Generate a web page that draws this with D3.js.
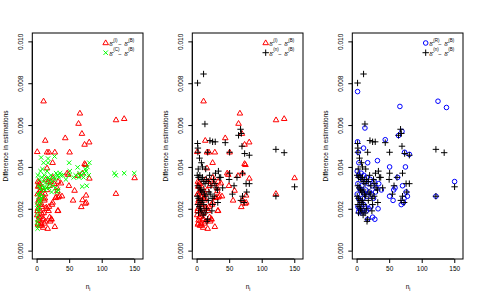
<!DOCTYPE html>
<html>
<head>
<meta charset="utf-8">
<script src="https://cdn.jsdelivr.net/npm/d3@7"></script>
<style>
body { margin: 0; background: white; }
text { font-family: 'Liberation Sans', Arial, sans-serif; fill: #000; }
</style>
</head>
<body>
<div id="chart_div"></div>
<script>
// [n_i, difference] pairs
var series_I = [[10.7,0.00714],[66.5,0.00656],[64.4,0.00607],[122,0.00624],[134.5,0.0063],[69.6,0.00559],[44,0.00538],[13.3,0.00526],[80.8,0.00518],[73.7,0.00507],[1,0.00472],[16,0.0047],[19,0.0047],[28,0.0047],[50.7,0.0047],[24.6,0.0042],[16,0.00394],[73.7,0.00415],[75,0.0041],[48.6,0.00363],[63.5,0.00358],[70.5,0.0037],[81,0.00345],[37.4,0.00322],[49.6,0.0031],[58.3,0.00287],[32,0.00285],[76,0.00264],[39,0.0026],[29,0.00252],[33,0.00255],[70.5,0.00242],[56,0.0024],[76.2,0.0023],[74.6,0.00225],[68.6,0.00209],[33,0.00191],[15.9,0.002],[24.6,0.0023],[22.7,0.00152],[22.7,0.00149],[28,0.00114],[17,0.00105],[121.8,0.00272],[150.5,0.00347],
	[3.6,0.00325],[2.6,0.00306],[7.7,0.00274],[4.6,0.0025],[12.8,0.0025],[2.6,0.0023],[8,0.0022],[14.9,0.00207],[1.5,0.0019],[8.1,0.00177],[18.5,0.0019],[23.6,0.0022],[4.6,0.0016],[11,0.0015],[2.6,0.0013],[7.2,0.0012],[13.8,0.0014],[10,0.0011],[32.5,0.0019],[35,0.0026],[30,0.00255],[31.5,0.003],[33,0.0033],[47,0.0037],[2,0.0033],[5,0.0032],[3,0.0031],[6,0.0029],[9,0.003],[4,0.0028],[1.5,0.0027],[7,0.0026],[10,0.0025],[3,0.0024],[5,0.0022],[8,0.0021],[2,0.002],[6,0.0019],[11,0.0018],[1,0.0017],[4,0.0016],[9,0.0015],[3,0.00145],[7,0.0013],[12,0.0013],[2,0.00125],[5,0.0012],[14,0.0034],[18,0.0033],[20,0.0031],[16,0.0029],[22,0.0033],[25,0.0035],[27,0.0032],[12,0.0024],[13,0.0027],[19,0.0021],[20,0.0016],[21,0.0014]];

var series_C = [[7,0.00445],[10.7,0.0042],[17.6,0.0044],[17.6,0.0042],[27.6,0.0045],[50,0.0042],[81,0.0042],[63,0.00398],[75,0.0039],[51,0.0038],[65,0.0035],[73,0.0037],[50,0.0036],[37,0.0036],[30,0.0037],[57,0.0035],[70,0.00306],[77,0.0031],[119.5,0.0037],[121.7,0.0036],[134.5,0.0037],[150,0.0037],[6,0.0038],
	[2,0.0036],[4,0.0034],[8,0.0035],[10,0.0033],[12,0.0036],[14,0.0034],[16,0.0032],[18,0.0035],[20,0.0034],[22,0.0036],[24,0.0033],[26,0.0035],[28,0.0034],[32,0.0036],[34,0.0035],[36,0.0037],[40,0.0036],[45,0.0034],[60,0.0036],[68,0.0036],[72,0.0035],[76,0.0038],[78,0.004],[80,0.0036],[66,0.0037],[3,0.0031],[5,0.003],[7,0.0029],[9,0.0031],[11,0.003],[13,0.0029],[15,0.003],[19,0.003],[21,0.0032],[25,0.0031],[29,0.003],[31,0.0028],[33,0.0029],[2,0.0027],[4,0.0026],[6,0.0027],[8,0.0025],[10,0.0026],[3,0.0024],[5,0.0023],[1,0.0022],[2,0.002],[3,0.0019],[1.5,0.0017],[2.5,0.0015],[1,0.00135],[2,0.0012],[1.5,0.00105],[4,0.0021],[6,0.0024],[23,0.0028],[16,0.0038],[9,0.0039]];

var series_N = [[1.5,0.00801],[10.7,0.00844],[12.8,0.00605],[1.5,0.00512],[2,0.0049],[2,0.0047],[20.5,0.00526],[24.6,0.0052],[28.6,0.0052],[44,0.00516],[64.4,0.00551],[67.5,0.0058],[68.7,0.0056],[69.7,0.00499],[73.8,0.00464],[81,0.00456],[50.7,0.0047],[17,0.0047],[121.8,0.00484],[134.5,0.00468],[150.5,0.00305],[121.8,0.0026],[4.5,0.00442],[7.4,0.0042],[9,0.004],[14,0.0039],[2.5,0.0039],[33.5,0.0038],[50.7,0.0037],[70.5,0.0037],[37,0.0035],[62,0.0035],[50,0.0034],[76,0.0032],[81,0.0032],[57.5,0.0031],[40,0.003],[32,0.0029],[77,0.0028],[55,0.0027],[70.5,0.0026],[68,0.0024],[73,0.0023],[32.5,0.0023],[24.5,0.0022],[23.5,0.0019],[17,0.0015],[16,0.0014],
	[1,0.0036],[3,0.0035],[5,0.0036],[7,0.0034],[9,0.0035],[11,0.0033],[13,0.0032],[15,0.0034],[18,0.0033],[20,0.0036],[22,0.0031],[26,0.0034],[28,0.0032],[30,0.003],[2,0.0031],[4,0.003],[6,0.0029],[8,0.0028],[10,0.0029],[12,0.0027],[14,0.0026],[19,0.0028],[21,0.0027],[24,0.0025],[1,0.0026],[3,0.0025],[5,0.0024],[7,0.0023],[9,0.0024],[11,0.0022],[2,0.0022],[4,0.0021],[6,0.002],[8,0.0019],[13,0.0018],[10,0.0017],[3,0.0018],[15,0.002],[18,0.0024],[27,0.0026],[35,0.0035],[29,0.0037]];

var series_R = [[1.5,0.0076],[66.5,0.00689],[125,0.00714],[138,0.00684],[1.5,0.0052],[2.5,0.0047],[3.5,0.0042],[12.8,0.00586],[10.7,0.0049],[44,0.0053],[64.4,0.0055],[69.7,0.0057],[73.7,0.0047],[81,0.0046],[50.7,0.004],[32,0.0043],[17,0.0042],[75,0.004],[63,0.0035],[150.5,0.0033],[121.8,0.0026],[50.7,0.0026],[56,0.0024],[68.6,0.0022],[72,0.0023],[76,0.0028],[70.5,0.0031],[33,0.002],[28,0.0015],[24.6,0.0016],[17,0.0015],
	[1,0.0038],[3,0.0036],[5,0.0035],[7,0.0037],[9,0.0034],[11,0.0036],[13,0.0033],[15,0.0035],[18,0.0032],[21,0.0034],[24,0.0031],[27,0.0033],[30,0.003],[34,0.0032],[38,0.0029],[2,0.0032],[4,0.003],[6,0.0029],[8,0.0031],[10,0.0028],[12,0.0027],[14,0.0029],[16,0.0026],[20,0.0028],[23,0.0027],[26,0.0025],[29,0.0028],[1,0.0027],[3,0.0025],[5,0.0024],[7,0.0023],[9,0.0025],[11,0.0022],[13,0.0021],[2,0.0021],[4,0.002],[6,0.0019],[8,0.0018],[10,0.0019],[3,0.00185],[15,0.0019],[19,0.002],[22,0.0021],[73,0.0025],[78,0.0026],[57,0.0029],[59,0.003]];

var x_ticks = [0, 50, 100, 150];
var y_ticks = [0, 0.002, 0.004, 0.006, 0.008, 0.010];
var y_title = 'Difference in estimations';

// each panel: [back series, front series], legend superscripts
var panels = [
	{ series: [[series_I, 'triangle', 'red'], [series_C, 'cross', '#00ff00']], legend: [['(I)', 'triangle', 'red'], ['(C)', 'cross', '#00ff00']] },
	{ series: [[series_I, 'triangle', 'red'], [series_N, 'plus', 'black']], legend: [['(I)', 'triangle', 'red'], ['(n)', 'plus', 'black']] },
	{ series: [[series_R, 'circle', 'blue'], [series_N, 'plus', 'black']], legend: [['(R)', 'circle', 'blue'], ['(n)', 'plus', 'black']] }
];

var svg = d3.select('#chart_div').append('svg')
	.attr('width', 480)
	.attr('height', 300);
svg.append('rect').attr('width', 480).attr('height', 300).attr('fill', 'white');

function draw_marker(g, shape, colour) {
	if (shape === 'triangle') {
		g.append('path').attr('d', 'M0,-3.1L2.8,1.7L-2.8,1.7Z')
			.attr('fill', 'none').attr('stroke', colour).attr('stroke-width', 1);
	} else if (shape === 'cross') {
		g.append('path').attr('d', 'M-2.2,-2.2L2.2,2.2M-2.2,2.2L2.2,-2.2')
			.attr('stroke', colour).attr('stroke-width', 1);
	} else if (shape === 'plus') {
		g.append('path').attr('d', 'M-3.2,0L3.2,0M0,-3.2L0,3.2')
			.attr('stroke', colour).attr('stroke-width', 1);
	} else {
		g.append('circle').attr('r', 2.3)
			.attr('fill', 'none').attr('stroke', colour).attr('stroke-width', 1);
	}
}

function draw_panel(p, i) {
	var left = 32.3 + i * 160;
	var top = 33;
	var w = 110.7;
	var h = 226;
	var x = d3.scaleLinear().domain([-6.6, 163.4]).range([left, left + w]);
	var y = d3.scaleLinear().domain([-0.0004, 0.0104]).range([top + h, top]);
	var g = svg.append('g');

	// points
	p.series.forEach(function (s) {
		s[0].forEach(function (d) {
			var m = g.append('g').attr('transform', 'translate(' + x(d[0]) + ',' + y(d[1]) + ')');
			draw_marker(m, s[1], s[2]);
		});
	});

	g.append('rect')
		.attr('x', left).attr('y', top).attr('width', w).attr('height', h)
		.attr('fill', 'none').attr('stroke', 'black').attr('stroke-width', 1);

	var xa = g.append('g').attr('transform', 'translate(0,' + (top + h) + ')')
		.call(d3.axisBottom(x).tickValues(x_ticks).tickSize(4).tickPadding(3).tickFormat(d3.format('d')));
	xa.select('.domain').attr('d', 'M' + x(0) + ',0H' + x(150));
	xa.selectAll('text').attr('font-size', 6.5).attr('font-family', null);

	var ya = g.append('g').attr('transform', 'translate(' + left + ',0)')
		.call(d3.axisLeft(y).tickValues(y_ticks).tickSize(4).tickFormat(d3.format('.3f')));
	ya.select('.domain').attr('d', 'M0,' + y(0) + 'V' + y(0.01));
	ya.selectAll('text')
		.attr('font-size', 6.5).attr('font-family', null)
		.attr('text-anchor', 'middle')
		.attr('x', 0).attr('dy', 0)
		.attr('transform', 'translate(-9.5,0) rotate(-90)');

	svg.append('text')
		.attr('transform', 'translate(' + (left - 24.5) + ',' + (top + h / 2) + ') rotate(-90)')
		.attr('text-anchor', 'middle')
		.attr('font-size', 6.5)
		.text(y_title);

	var xl = svg.append('text')
		.attr('x', left + w / 2 - 2)
		.attr('y', 289)
		.attr('font-size', 6.5);
	xl.append('tspan').text('n');
	xl.append('tspan').attr('font-size', 4.5).attr('dy', 1.5).text('i');

	// legend
	p.legend.forEach(function (l, k) {
		var ly = 43 + k * 9.7;
		var m = svg.append('g').attr('transform', 'translate(' + (left + 73.4) + ',' + ly + ')');
		draw_marker(m, l[1], l[2]);
		var t = svg.append('text').attr('font-size', 6).attr('fill', '#333');
		t.append('tspan').attr('x', left + 77).attr('y', ly + 3).text('δ\u0302');
		t.append('tspan').attr('x', left + 81).attr('y', ly - 1.3).attr('font-size', 4.5).text(l[0]);
		t.append('tspan').attr('x', left + 86).attr('y', ly + 3).text('−');
		t.append('tspan').attr('x', left + 92).attr('y', ly + 3).text('δ\u0302');
		t.append('tspan').attr('x', left + 96).attr('y', ly - 1.3).attr('font-size', 4.5).text('(B)');
	});
}

panels.forEach(draw_panel);
</script>
</body>
</html>
